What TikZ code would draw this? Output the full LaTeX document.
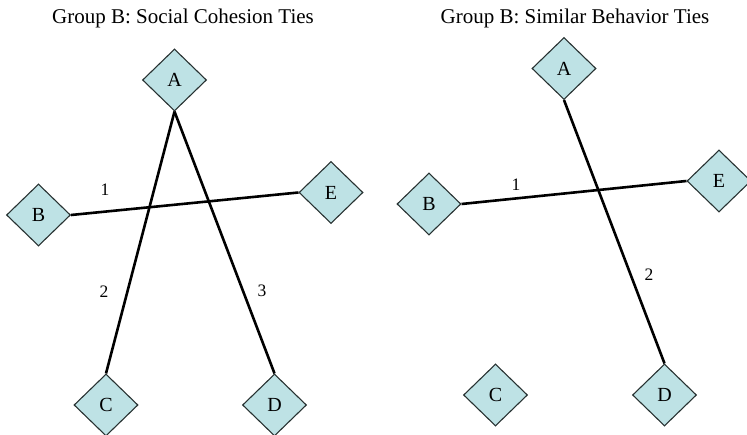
\documentclass[tikz,border=0pt]{standalone}
\usepackage{fontspec}
\setmainfont{Liberation Serif}
\usetikzlibrary{shapes.geometric}
\definecolor{nodefill}{RGB}{190,226,229}
\definecolor{nodeline}{RGB}{40,50,50}
\tikzset{
  actor/.style={diamond, draw=nodeline, line width=1.1pt, fill=nodefill, inner sep=0pt,
    minimum width=64pt, minimum height=62pt, font=\fontsize{20}{20}\selectfont},
  tie/.style={line width=2.6pt, black},
  tielabel/.style={font=\fontsize{17.5}{17.5}\selectfont, inner sep=0pt},
  paneltitle/.style={font=\fontsize{21}{21}\selectfont, inner sep=0pt}
}
\begin{document}
\begin{tikzpicture}[x=1pt,y=-1pt]
\useasboundingbox (0,0) rectangle (747,435);
% left panel
\node[paneltitle] (t1) at (183,18) {Group B: Social Cohesion Ties};
\node[actor] (lA) at (174.5,80) {A};
\node[actor] (lB) at (38.5,215) {B};
\node[actor] (lE) at (331,192.5) {E};
\node[actor] (lC) at (106,405) {C};
\node[actor] (lD) at (274.5,405) {D};
\draw[tie] (lB.east) -- (lE.west);
\draw[tie] (lA.south) -- (lC.north);
\draw[tie] (lA.south) -- (lD.north);
\node[tielabel] (l1) at (105,190) {1};
\node[tielabel] (l2) at (104,292) {2};
\node[tielabel] (l3) at (262,291) {3};
% right panel
\node[paneltitle] (t2) at (575,18) {Group B: Similar Behavior Ties};
\node[actor] (rA) at (564,68.5) {A};
\node[actor] (rB) at (429,204) {B};
\node[actor] (rE) at (719,181) {E};
\node[actor] (rC) at (495.5,395) {C};
\node[actor] (rD) at (664.5,395) {D};
\draw[tie] (rB.east) -- (rE.west);
\draw[tie] (rA.south) -- (rD.north);
\node[tielabel] (r1) at (516,185) {1};
\node[tielabel] (r2) at (649,275) {2};
\end{tikzpicture}
\end{document}
